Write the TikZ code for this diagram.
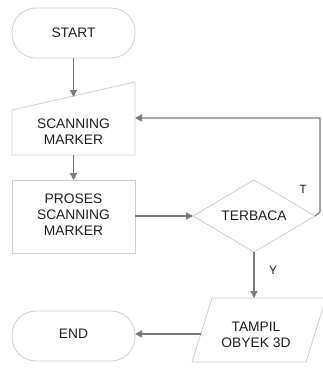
\documentclass[tikz,border=0pt]{standalone}
\usepackage{fontspec}
\setmainfont{Liberation Sans}
\usetikzlibrary{arrows.meta}
\definecolor{shapeline}{HTML}{CFCFCF}
\definecolor{arrowline}{HTML}{7A7A7A}
\definecolor{txt}{HTML}{1E1E1E}
\tikzset{
  shp/.style={draw=shapeline, line width=0.8pt},
  lbl/.style={text=txt, font=\fontsize{13.8}{16}\selectfont, align=center, inner sep=0pt},
  conn/.style={draw=arrowline, line width=1.3pt, -{Triangle[length=7pt,width=7pt]}},
  side/.style={text=txt, font=\fontsize{12}{14}\selectfont, inner sep=0pt}
}
\begin{document}
\begin{tikzpicture}[x=1pt,y=-1pt]
\useasboundingbox (0,0) rectangle (323,372);
% shapes
\draw[shp, rounded corners=24pt] (12,8) rectangle (135,58);
\draw[shp] (12,110) -- (135,82) -- (135,155) -- (12,155) -- cycle;
\draw[shp] (12,180) rectangle (135,253);
\draw[shp] (193,216) -- (254,180) -- (315,216) -- (254,252) -- cycle;
\draw[shp] (212,298) -- (326,298) -- (306,362) -- (192,362) -- cycle;
\draw[shp, rounded corners=24pt] (12,311) rectangle (135,361);
% text nodes
\node[lbl] (start) at (73.5,33) {START};
\node[lbl] (scan) at (73.5,132) {SCANNING\\MARKER};
\node[lbl] (proses) at (73.5,215) {PROSES\\SCANNING\\MARKER};
\node[lbl] (terbaca) at (254,216) {TERBACA};
\node[lbl] (tampil) at (256,335) {TAMPIL\\OBYEK 3D};
\node[lbl] (end) at (73.5,334) {END};
\node[side] (t) at (303,189) {T};
\node[side] (y) at (273,270) {Y};
% connection points
\coordinate (startB) at (73.5,58);
\coordinate (scanT) at (73.5,97);
\coordinate (scanB) at (73.5,155);
\coordinate (scanR) at (135,118);
\coordinate (prosesT) at (73.5,180);
\coordinate (prosesR) at (135,216);
\coordinate (dL) at (193,216);
\coordinate (dR) at (315,216);
\coordinate (dB) at (254,252);
\coordinate (tampilT) at (254,298);
\coordinate (tampilL) at (201,334);
\coordinate (endR) at (135,334);
\coordinate (loopA) at (320,212);
\coordinate (loopB) at (320,118);
% connectors
\draw[conn] (startB) -- (scanT);
\draw[conn] (scanB) -- (prosesT);
\draw[conn] (prosesR) -- (dL);
\draw[conn] (dB) -- (tampilT);
\draw[conn] (tampilL) -- (endR);
\draw[conn] (dR) -- (loopA) -- (loopB) -- (scanR);
\end{tikzpicture}
\end{document}
